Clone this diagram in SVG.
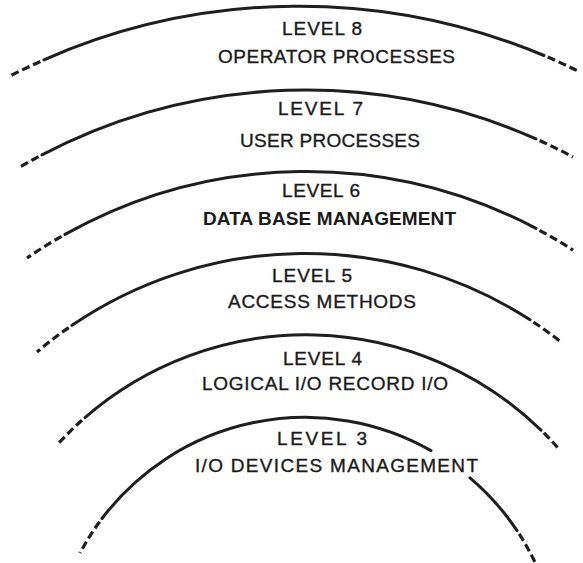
<svg xmlns="http://www.w3.org/2000/svg" width="583" height="563" viewBox="0 0 583 563">
<style>
.solid{fill:none;stroke:#1e1e1e;stroke-width:3;stroke-linecap:round}
.dash{fill:none;stroke:#1e1e1e;stroke-width:3.2;stroke-dasharray:8 4;stroke-dashoffset:8}
text{font-family:"Liberation Sans","Arial",sans-serif;font-size:19px;fill:#1a1a1a;stroke:#1a1a1a;stroke-width:0.35}
.b{font-weight:bold;stroke-width:0}
</style>
<rect width="583" height="563" fill="#ffffff"/>
<g id="level8">
<path class="solid" d="M44 59.8 A633.3 633.3 0 0 1 544 55.5"/>
<path class="dash" d="M44 59.8 A633.3 633.3 0 0 0 10 76"/>
<path class="dash" d="M544 55.5 A633.3 633.3 0 0 1 580 72"/>
<text x="282" y="35" textLength="80" lengthAdjust="spacing">LEVEL 8</text>
<text x="218" y="63" textLength="237" lengthAdjust="spacing">OPERATOR PROCESSES</text>
</g>
<g id="level7">
<path class="solid" d="M42 154.8 A568.6 568.6 0 0 1 536 138.9"/>
<path class="dash" d="M42 154.8 A568.6 568.6 0 0 0 20 167"/>
<path class="dash" d="M536 138.9 A568.6 568.6 0 0 1 573 157"/>
<text x="278" y="115" textLength="85" lengthAdjust="spacing">LEVEL 7</text>
<text x="240" y="147" textLength="180" lengthAdjust="spacing">USER PROCESSES</text>
</g>
<g id="level6">
<path class="solid" d="M65 234.4 A493 493 0 0 1 536 228.4"/>
<path class="dash" d="M65 234.4 A493 493 0 0 0 27 258"/>
<path class="dash" d="M536 228.4 A493 493 0 0 1 573 250.1"/>
<text x="282" y="197" textLength="78" lengthAdjust="spacing">LEVEL 6</text>
<text class="b" x="203" y="225" textLength="253" lengthAdjust="spacing">DATA BASE MANAGEMENT</text>
</g>
<g id="level5">
<path class="solid" d="M72 325.3 A413.9 413.9 0 0 1 530 319.8"/>
<path class="dash" d="M72 325.3 A413.9 413.9 0 0 0 37 352"/>
<path class="dash" d="M530 319.8 A413.9 413.9 0 0 1 561 342"/>
<text x="272" y="282" textLength="80" lengthAdjust="spacing">LEVEL 5</text>
<text x="228" y="308" textLength="188" lengthAdjust="spacing">ACCESS METHODS</text>
</g>
<g id="level4">
<path class="solid" d="M85 417.6 A336.9 336.9 0 0 1 541 430.1"/>
<path class="dash" d="M85 417.6 A336.9 336.9 0 0 0 57 445"/>
<path class="dash" d="M541 430.1 A336.9 336.9 0 0 1 558 447.9"/>
<text x="283" y="365" textLength="79" lengthAdjust="spacing">LEVEL 4</text>
<text x="202" y="390" textLength="246" lengthAdjust="spacing">LOGICAL I/O RECORD I/O</text>
</g>
<g id="level3">
<path class="solid" d="M102 518.5 A254.6 254.6 0 0 1 431 450.6"/>
<path class="solid" d="M470 477.8 A254.6 254.6 0 0 1 517 530.6"/>
<path class="dash" d="M102 518.5 A254.6 254.6 0 0 0 80 553.1"/>
<path class="dash" d="M517 530.6 A254.6 254.6 0 0 1 535 562.3"/>
<text x="277" y="445" textLength="90" lengthAdjust="spacing">LEVEL 3</text>
<text x="195" y="472" textLength="283" lengthAdjust="spacing">I/O DEVICES MANAGEMENT</text>
</g>
</svg>
